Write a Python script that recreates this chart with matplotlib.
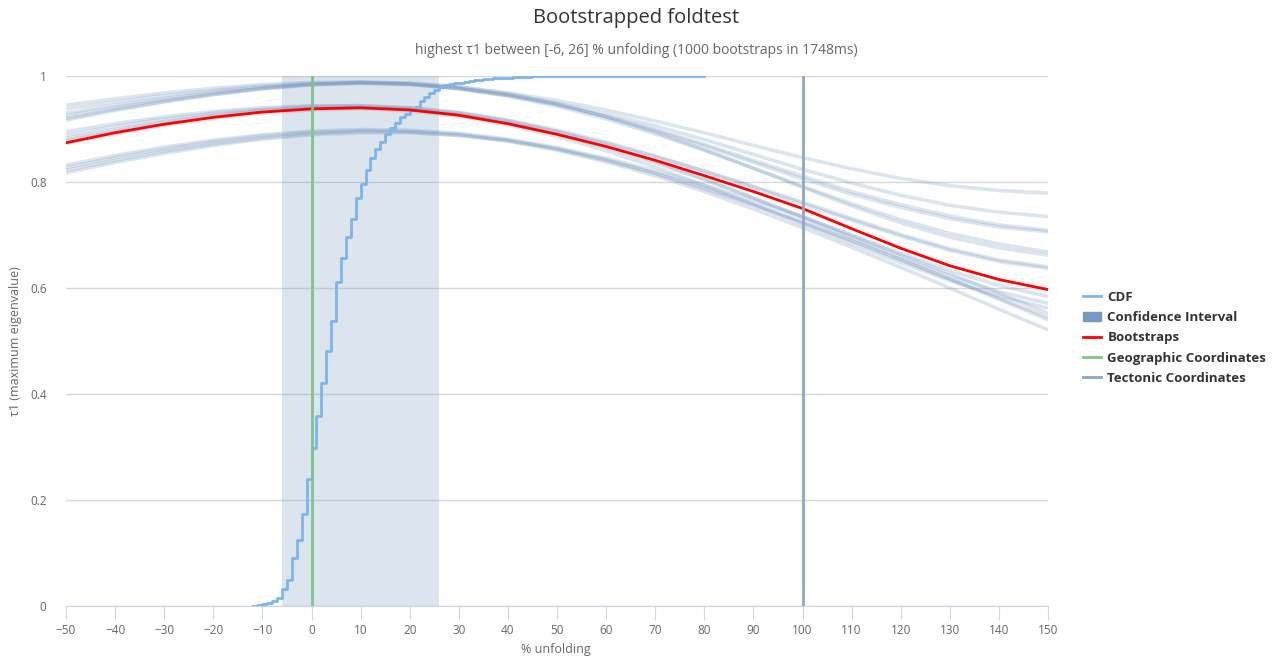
import matplotlib
matplotlib.use("Agg")
import matplotlib.pyplot as plt
from matplotlib.lines import Line2D
from matplotlib.patches import Patch

plt.rcParams["font.family"] = ["Open Sans", "DejaVu Sans"]

# unfolding percentages where tau1 was evaluated
unfold_x = [-50, -40, -30, -20, -10, 0, 10, 20, 30, 40, 50,
            60, 70, 80, 90, 100, 110, 120, 130, 140, 150]

# tau1 of the original data
tau_main = [0.874, 0.893, 0.909, 0.922, 0.932, 0.938, 0.940, 0.936, 0.926, 0.910, 0.890,
            0.867, 0.841, 0.812, 0.782, 0.750, 0.712, 0.675, 0.642, 0.616, 0.597]

# bootstrap tau1 curves, grouped by where they start
boot_high = [
    [0.945, 0.957, 0.968, 0.977, 0.984, 0.988, 0.989, 0.986, 0.979, 0.968, 0.954,
     0.936, 0.915, 0.893, 0.869, 0.846, 0.825, 0.807, 0.793, 0.784, 0.779],
    [0.938, 0.951, 0.963, 0.973, 0.981, 0.986, 0.988, 0.985, 0.977, 0.965, 0.949,
     0.929, 0.906, 0.880, 0.852, 0.824, 0.798, 0.775, 0.756, 0.743, 0.735],
    [0.930, 0.945, 0.958, 0.970, 0.979, 0.985, 0.987, 0.984, 0.976, 0.963, 0.946,
     0.924, 0.899, 0.871, 0.841, 0.811, 0.782, 0.757, 0.736, 0.719, 0.709],
    [0.925, 0.941, 0.955, 0.967, 0.977, 0.984, 0.987, 0.985, 0.977, 0.964, 0.946,
     0.923, 0.897, 0.868, 0.837, 0.806, 0.777, 0.752, 0.731, 0.715, 0.706],
    [0.920, 0.937, 0.952, 0.965, 0.976, 0.983, 0.986, 0.984, 0.976, 0.962, 0.943,
     0.919, 0.891, 0.860, 0.826, 0.792, 0.759, 0.729, 0.703, 0.683, 0.668],
    [0.917, 0.935, 0.951, 0.965, 0.976, 0.984, 0.988, 0.987, 0.980, 0.967, 0.948,
     0.923, 0.894, 0.861, 0.826, 0.790, 0.755, 0.723, 0.696, 0.676, 0.662],
]
boot_mid = [
    [0.895, 0.910, 0.923, 0.933, 0.940, 0.944, 0.944, 0.939, 0.929, 0.914, 0.895,
     0.873, 0.848, 0.821, 0.792, 0.762, 0.731, 0.701, 0.674, 0.653, 0.640],
    [0.888, 0.905, 0.919, 0.930, 0.938, 0.943, 0.944, 0.940, 0.931, 0.917, 0.898,
     0.875, 0.849, 0.820, 0.790, 0.759, 0.728, 0.698, 0.671, 0.650, 0.637],
    [0.882, 0.899, 0.914, 0.926, 0.935, 0.940, 0.941, 0.937, 0.927, 0.911, 0.890,
     0.865, 0.836, 0.804, 0.770, 0.735, 0.700, 0.665, 0.633, 0.605, 0.584],
    [0.878, 0.896, 0.912, 0.925, 0.935, 0.941, 0.943, 0.940, 0.931, 0.916, 0.895,
     0.869, 0.839, 0.806, 0.770, 0.733, 0.695, 0.658, 0.623, 0.593, 0.571],
    [0.873, 0.891, 0.907, 0.920, 0.930, 0.936, 0.938, 0.934, 0.924, 0.908, 0.886,
     0.859, 0.828, 0.794, 0.758, 0.721, 0.684, 0.648, 0.614, 0.585, 0.562],
]
boot_low = [
    [0.832, 0.850, 0.866, 0.879, 0.889, 0.896, 0.899, 0.898, 0.892, 0.881, 0.865,
     0.845, 0.821, 0.794, 0.765, 0.734, 0.699, 0.663, 0.627, 0.590, 0.552],
    [0.827, 0.846, 0.862, 0.876, 0.887, 0.894, 0.897, 0.896, 0.890, 0.879, 0.863,
     0.842, 0.817, 0.789, 0.758, 0.725, 0.690, 0.654, 0.617, 0.579, 0.540],
    [0.822, 0.841, 0.858, 0.872, 0.883, 0.891, 0.895, 0.894, 0.888, 0.877, 0.860,
     0.838, 0.812, 0.782, 0.749, 0.714, 0.677, 0.639, 0.600, 0.560, 0.521],
    [0.817, 0.837, 0.854, 0.869, 0.881, 0.889, 0.893, 0.893, 0.888, 0.878, 0.862,
     0.841, 0.816, 0.787, 0.756, 0.723, 0.689, 0.653, 0.617, 0.581, 0.545],
]

# cumulative distribution of the unfolding with maximum tau1
cdf_x = list(range(-12, 46)) + [80]
cdf_y = [0.0, 0.001, 0.003, 0.006, 0.009, 0.015, 0.033, 0.049, 0.090, 0.125,
         0.174, 0.239, 0.299, 0.359, 0.421, 0.482, 0.538, 0.612, 0.656, 0.697,
         0.730, 0.769, 0.796, 0.823, 0.845, 0.862, 0.876, 0.891, 0.901, 0.912,
         0.922, 0.929, 0.936, 0.942, 0.952, 0.960, 0.968, 0.974, 0.980, 0.983,
         0.985, 0.986, 0.987, 0.989, 0.990, 0.992, 0.993, 0.994, 0.995, 0.996,
         0.996, 0.997, 0.997, 0.998, 0.998, 0.999, 0.999, 1.0, 1.0]

ci_low, ci_high = -6, 26
geographic_x = 0
tectonic_x = 100

CDF_COLOR = "#7cb5ec"
BOOT_COLOR = "#7798bf"
GEO_COLOR = "#7fc38f"
TEC_COLOR = "#8ea6ca"

fig = plt.figure(figsize=(12.72, 6.59), dpi=100)
ax = fig.add_axes([66 / 1272, 1 - 606 / 659, 982 / 1272, 530 / 659])

ax.axvspan(ci_low, ci_high, color=BOOT_COLOR, alpha=0.25, lw=0, zorder=1)

for curve in boot_high + boot_mid + boot_low:
    ax.plot(unfold_x, curve, color=BOOT_COLOR, alpha=0.25, lw=2.6,
            solid_capstyle="butt", zorder=2)
ax.plot(unfold_x, tau_main, color="red", lw=2, zorder=4)

ax.step(cdf_x, cdf_y, where="post", color=CDF_COLOR, lw=2, zorder=3)

ax.axvline(geographic_x, color=GEO_COLOR, lw=2, zorder=5)
ax.axvline(tectonic_x, color=TEC_COLOR, lw=2, zorder=5)

ax.set_xlim(-50, 150)
ax.set_ylim(0, 1)
ax.set_xticks(range(-50, 151, 10))
ax.set_yticks([0, 0.2, 0.4, 0.6, 0.8, 1])
ax.set_yticklabels(["0", "0.2", "0.4", "0.6", "0.8", "1"])
ax.grid(axis="y", color="#d8d8d8", lw=1)
ax.set_axisbelow(True)
for side in ["left", "right", "top"]:
    ax.spines[side].set_visible(False)
ax.spines["bottom"].set_color("#ccd6eb")
ax.spines["bottom"].set_zorder(0)
ax.tick_params(axis="x", length=10, color="#ccd6eb", labelsize=8.5,
               labelcolor="#666666", pad=3)
ax.tick_params(axis="y", length=0, labelsize=8.5, labelcolor="#666666", pad=14)

# axis titles placed by hand so they sit inside the canvas
fig.text(556 / 1272, 1 - 649 / 659, "% unfolding", ha="center", va="center",
         fontsize=9, color="#666666")
fig.text(16 / 1272, 1 - 341 / 659, "τ1 (maximum eigenvalue)", ha="center",
         va="center", rotation=90, fontsize=9, color="#666666")

fig.text(0.5, 1 - 18 / 659, "Bootstrapped foldtest", ha="center", va="center",
         fontsize=14.5, color="#333333")
fig.text(0.5, 1 - 51 / 659,
         "highest τ1 between [-6, 26] % unfolding (1000 bootstraps in 1748ms)",
         ha="center", va="center", fontsize=10, color="#666666")

handles = [
    Line2D([], [], color=CDF_COLOR, lw=2),
    Patch(color=BOOT_COLOR),
    Line2D([], [], color="red", lw=2),
    Line2D([], [], color=GEO_COLOR, lw=2),
    Line2D([], [], color=TEC_COLOR, lw=2),
]
labels = ["CDF", "Confidence Interval", "Bootstraps",
          "Geographic Coordinates", "Tectonic Coordinates"]
leg = fig.legend(handles, labels, loc="center left",
                 bbox_to_anchor=(1071 / 1272, 1 - 338 / 659), frameon=False,
                 handlelength=1.4, handletextpad=0.45, labelspacing=0.55,
                 prop={"size": 9.5, "weight": "bold"})
for t in leg.get_texts():
    t.set_color("#333333")

fig.savefig("out.png", dpi=100)
